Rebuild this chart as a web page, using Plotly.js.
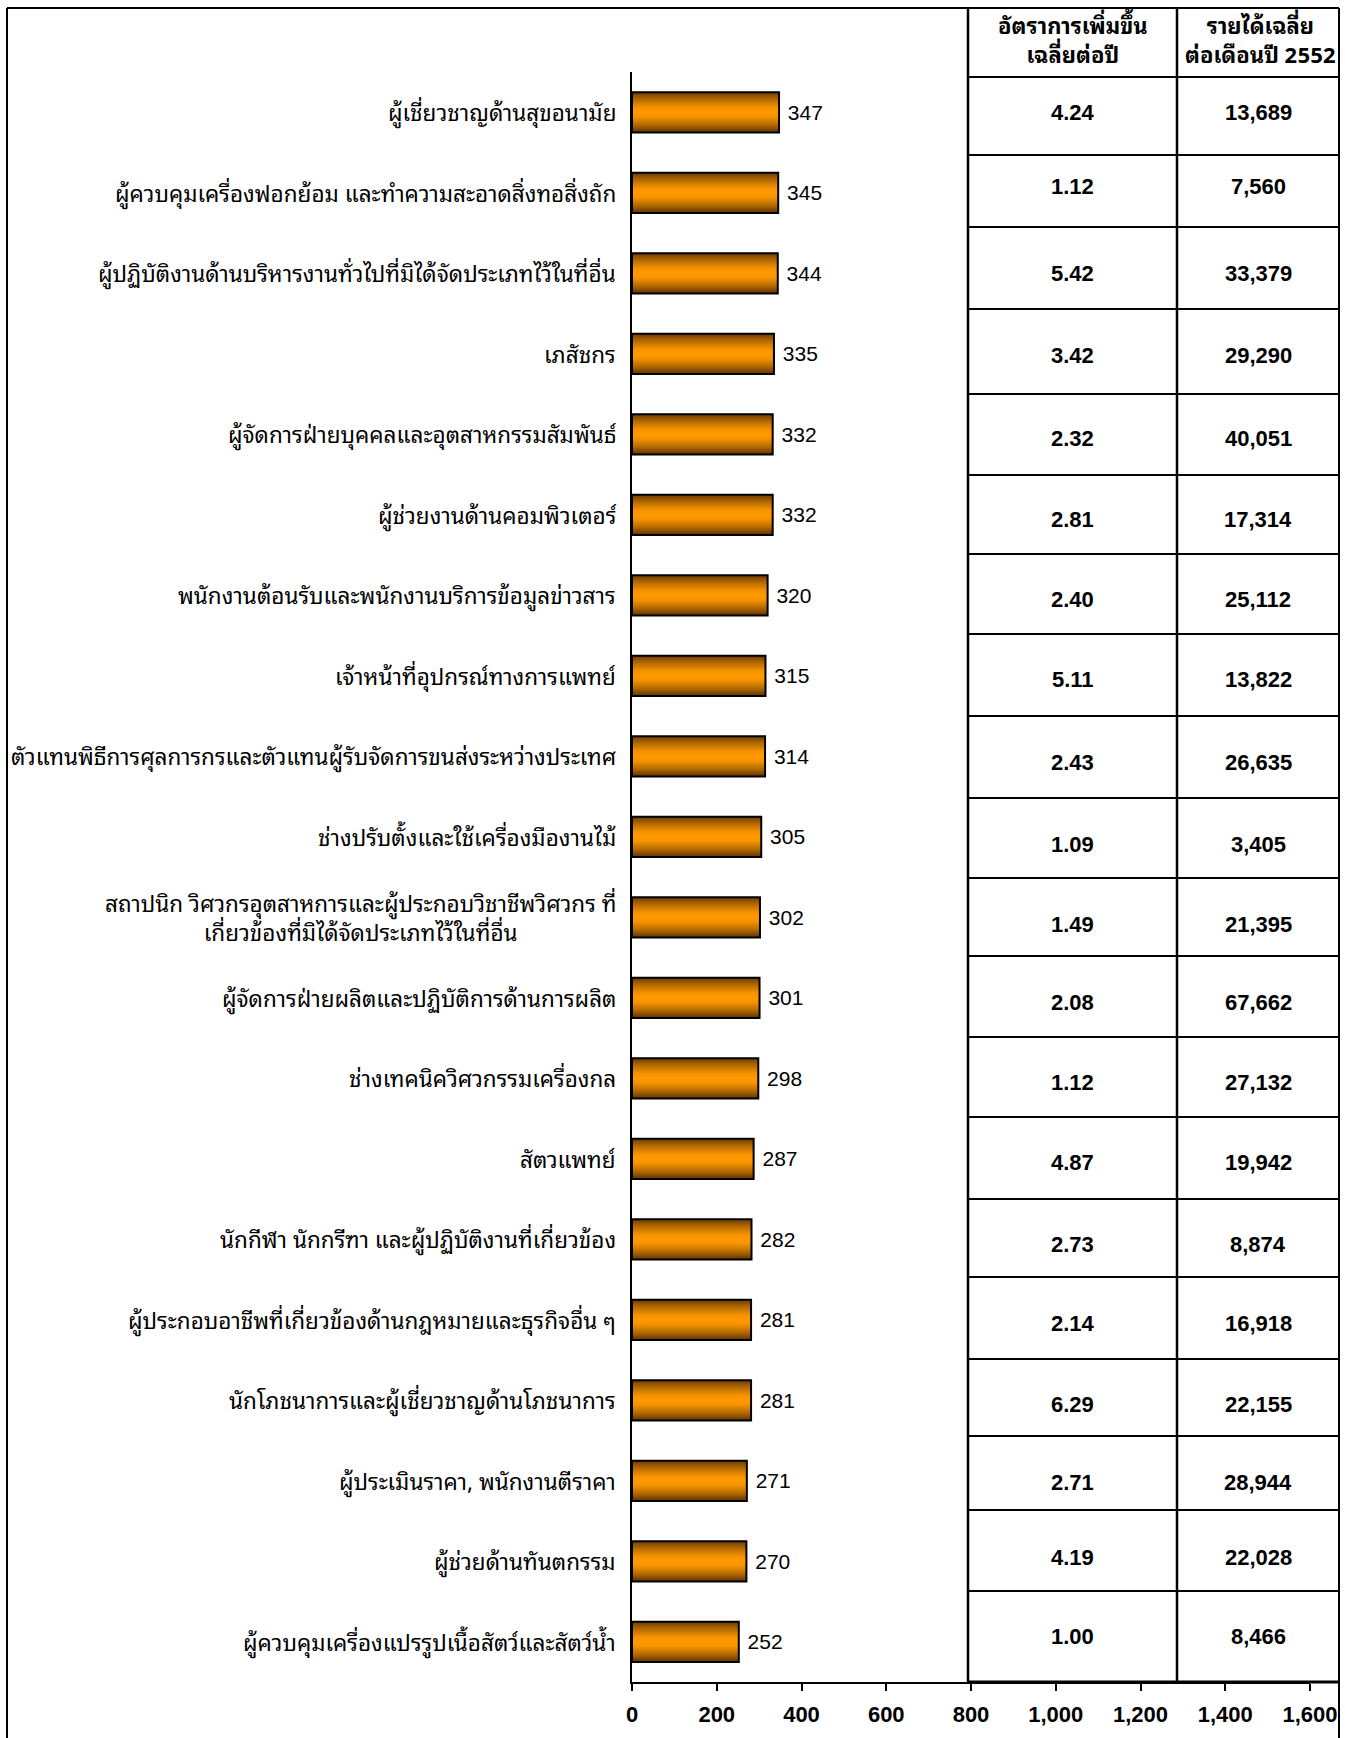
<!DOCTYPE html>
<html>
<head>
<meta charset="utf-8">
<script src="https://cdn.plot.ly/plotly-3.0.1.min.js"></script>
<style>
  html, body { margin: 0; padding: 0; background: #ffffff; }
  #chart { width: 1345px; height: 1738px; }
</style>
</head>
<body>
<div id="chart"></div>
<script>
// ---------------- DATA ----------------
const categories = [
  'ผู้เชี่ยวชาญด้านสุขอนามัย',
  'ผู้ควบคุมเครื่องฟอกย้อม และทำความสะอาดสิ่งทอสิ่งถัก',
  'ผู้ปฏิบัติงานด้านบริหารงานทั่วไปที่มิได้จัดประเภทไว้ในที่อื่น',
  'เภสัชกร',
  'ผู้จัดการฝ่ายบุคคลและอุตสาหกรรมสัมพันธ์',
  'ผู้ช่วยงานด้านคอมพิวเตอร์',
  'พนักงานต้อนรับและพนักงานบริการข้อมูลข่าวสาร',
  'เจ้าหน้าที่อุปกรณ์ทางการแพทย์',
  'ตัวแทนพิธีการศุลการกรและตัวแทนผู้รับจัดการขนส่งระหว่างประเทศ',
  'ช่างปรับตั้งและใช้เครื่องมืองานไม้',
  'สถาปนิก วิศวกรอุตสาหการและผู้ประกอบวิชาชีพวิศวกร ที่<br>เกี่ยวข้องที่มิได้จัดประเภทไว้ในที่อื่น',
  'ผู้จัดการฝ่ายผลิตและปฏิบัติการด้านการผลิต',
  'ช่างเทคนิควิศวกรรมเครื่องกล',
  'สัตวแพทย์',
  'นักกีฬา นักกรีฑา และผู้ปฏิบัติงานที่เกี่ยวข้อง',
  'ผู้ประกอบอาชีพที่เกี่ยวข้องด้านกฎหมายและธุรกิจอื่น ๆ',
  'นักโภชนาการและผู้เชี่ยวชาญด้านโภชนาการ',
  'ผู้ประเมินราคา, พนักงานตีราคา',
  'ผู้ช่วยด้านทันตกรรม',
  'ผู้ควบคุมเครื่องแปรรูปเนื้อสัตว์และสัตว์น้ำ'
];
const counts = [347, 345, 344, 335, 332, 332, 320, 315, 314, 305, 302, 301, 298, 287, 282, 281, 281, 271, 270, 252];
const growthRate = [4.24, 1.12, 5.42, 3.42, 2.32, 2.81, 2.40, 5.11, 2.43, 1.09, 1.49, 2.08, 1.12, 4.87, 2.73, 2.14, 6.29, 2.71, 4.19, 1.00];
const income2552 = [13689, 7560, 33379, 29290, 40051, 17314, 25112, 13822, 26635, 3405, 21395, 67662, 27132, 19942, 8874, 16918, 22155, 28944, 22028, 8466];
const headerGrowth = ['อัตราการเพิ่มขึ้น', 'เฉลี่ยต่อปี'];
const headerIncome = ['รายได้เฉลี่ย', 'ต่อเดือนปี 2552'];
const xTickValues = [0, 200, 400, 600, 800, 1000, 1200, 1400, 1600];
const xTickLabels = ['0', '200', '400', '600', '800', '1,000', '1,200', '1,400', '1,600'];

// ---------------- LAYOUT GEOMETRY (pixels) ----------------
const PL = 632, PR = 1310, PT = 72, PB = 1682;
const px2x = px => (px - PL) / (PR - PL);
const px2y = py => (PB - py) / (PB - PT);

const tableLeft = 968, tableMid = 1177, tableRight = 1339, tableTop = 8;
const rowLines = [77, 155, 227, 309, 394, 475, 554, 634, 716, 798, 878, 956, 1037, 1117, 1199, 1277, 1359, 1436, 1510, 1591, 1682];
const cellTextY = [113, 187, 273, 355, 439, 519, 599, 679, 762, 844, 924, 1002, 1082, 1162, 1244, 1323, 1404, 1482, 1557, 1636];

const thaiFont = "Tahoma, 'Noto Sans Thai Looped', Loma, Garuda, 'Noto Sans Thai', 'Noto Sans', 'DejaVu Sans', sans-serif";
const arialFont = "'Liberation Sans', Arial, sans-serif";

const shapes = [];
function line(x0, y0, x1, y1, w) {
  shapes.push({type: 'line', xref: 'paper', yref: 'paper', layer: 'above',
    x0: px2x(x0), y0: px2y(y0), x1: px2x(x1), y1: px2y(y1),
    line: {color: '#000000', width: w}});
}
// outer frame
line(7, 8, 7, 1745, 2);
line(7, 8, 1339, 8, 2);
line(1339, 8, 1339, 1745, 2);
// table
line(tableLeft, tableTop, tableLeft, PB, 2.5);
line(tableMid, tableTop, tableMid, PB, 2.5);
rowLines.forEach((r, i) => line(tableLeft, r, tableRight, r, i === rowLines.length - 1 ? 3 : 2.2));

const annotations = [];
// category labels
categories.forEach(c => {
  annotations.push({
    xref: 'paper', yref: 'y', x: 0, y: c, xanchor: 'right', yanchor: 'middle',
    xshift: -14, yshift: 1, text: c, showarrow: false, align: 'center',
    font: {family: thaiFont, size: 22.5, color: '#000000'}
  });
});
// table headers
function headerText(lines, cx) {
  annotations.push({xref: 'paper', yref: 'paper', x: px2x(cx), y: px2y(39), xanchor: 'center', yanchor: 'middle',
    text: lines.join('<br>'), showarrow: false, align: 'center',
    font: {family: thaiFont, size: 22, weight: 'bold', color: '#000000'}});
}
headerText(headerGrowth, (tableLeft + tableMid) / 2);
headerText(headerIncome, (tableMid + tableRight) / 2 + 2);
// table cells
growthRate.forEach((g, i) => {
  annotations.push({xref: 'paper', yref: 'paper', x: px2x((tableLeft + tableMid) / 2), y: px2y(cellTextY[i]),
    xanchor: 'center', yanchor: 'middle', text: g.toFixed(2), showarrow: false,
    font: {family: arialFont, size: 22, weight: 'bold', color: '#000000'}});
  annotations.push({xref: 'paper', yref: 'paper', x: px2x((tableMid + tableRight) / 2), y: px2y(cellTextY[i]),
    xanchor: 'center', yanchor: 'middle', text: income2552[i].toLocaleString('en-US'), showarrow: false,
    font: {family: arialFont, size: 22, weight: 'bold', color: '#000000'}});
});

const trace = {
  type: 'bar', orientation: 'h',
  y: categories, x: counts,
  width: 0.5,
  marker: {color: '#ff9900', line: {color: '#000000', width: 2}},
  text: counts.map(v => '\u00a0' + v), textposition: 'outside', cliponaxis: false,
  textfont: {family: arialFont, size: 21, color: '#000000'},
  hoverinfo: 'x+y'
};

const layout = {
  width: 1345, height: 1738,
  margin: {l: PL, r: 1345 - PR, t: PT, b: 1738 - PB, pad: 0},
  paper_bgcolor: '#ffffff', plot_bgcolor: 'rgba(0,0,0,0)',
  showlegend: false,
  xaxis: {
    range: [0, 1600], tickvals: xTickValues, ticktext: xTickLabels,
    showgrid: false, zeroline: false, showline: true, linecolor: '#000000', linewidth: 2,
    ticks: 'outside', ticklen: 7, tickwidth: 2, tickcolor: '#000000', ticklabelstandoff: 5,
    tickfont: {family: arialFont, size: 22, weight: 'bold', color: '#000000'}
  },
  yaxis: {
    type: 'category', autorange: 'reversed', showticklabels: false,
    showgrid: false, zeroline: false, showline: true, linecolor: '#000000', linewidth: 2, ticks: ''
  },
  shapes: shapes,
  annotations: annotations
};

Plotly.newPlot('chart', [trace], layout, {displayModeBar: false, staticPlot: true}).then(gd => {
  const svg = gd.querySelector('svg.main-svg');
  const ns = 'http://www.w3.org/2000/svg';
  let defs = svg.querySelector('defs');
  if (!defs) { defs = document.createElementNS(ns, 'defs'); svg.insertBefore(defs, svg.firstChild); }
  const grad = document.createElementNS(ns, 'linearGradient');
  grad.setAttribute('id', 'barGrad');
  grad.setAttribute('x1', '0'); grad.setAttribute('y1', '0');
  grad.setAttribute('x2', '0'); grad.setAttribute('y2', '1');
  [['0', '#6a3a00'], ['0.18', '#b46a00'], ['0.38', '#f59200'], ['0.5', '#ff9a00'], ['0.62', '#f59200'], ['0.82', '#b06800'], ['1', '#5e3300']]
    .forEach(([o, c]) => {
      const s = document.createElementNS(ns, 'stop');
      s.setAttribute('offset', o); s.setAttribute('stop-color', c);
      grad.appendChild(s);
    });
  defs.appendChild(grad);
  gd.querySelectorAll('.barlayer .point path').forEach(p => { p.style.fill = 'url(#barGrad)'; });
});
</script>
</body>
</html>
